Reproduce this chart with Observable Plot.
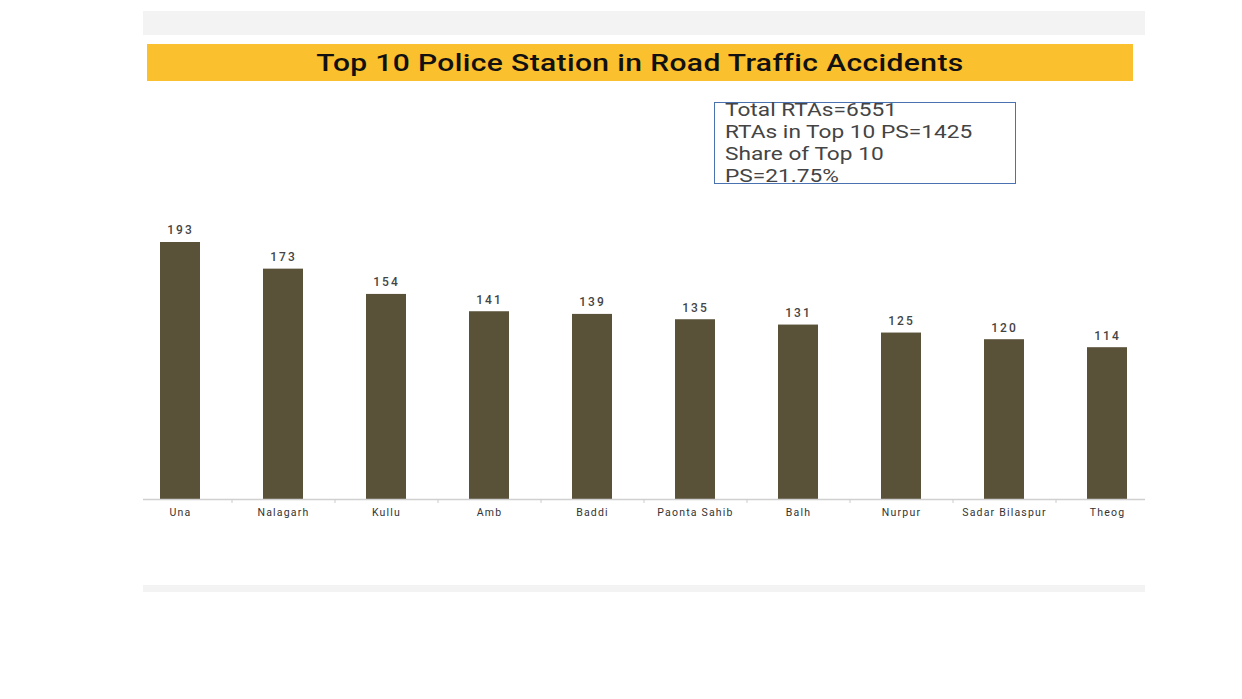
<!DOCTYPE html>
<html>
<head>
<meta charset="utf-8">
<script src="https://cdn.jsdelivr.net/npm/d3@7"></script>
<script src="https://cdn.jsdelivr.net/npm/@observablehq/plot@0.6"></script>
<style>
  body { margin: 0; background: #fff; font-family: "Noto Sans", Roboto, sans-serif; }
  #wrap { position: relative; width: 1242px; height: 699px; overflow: hidden; background: #fff; }
  .band { position: absolute; background: #f3f3f3; }
  #title { position: absolute; left: 147px; top: 44px; width: 986px; height: 37px; background: #fbc02d;
           display: flex; align-items: center; justify-content: center; font-size: 24px; color: #111; font-weight: 500;
           font-family: Roboto, sans-serif; }
  #title span { display: inline-block; transform: scaleX(1.25); letter-spacing: 0.3px; }
  #box { position: absolute; left: 714px; top: 102px; width: 290px; height: 80px; border: 1.5px solid #4a72b0;
         padding-left: 10px; font-size: 18px; line-height: 22px; color: #444;
         font-family: Roboto, sans-serif; }
  #box div { white-space: nowrap; transform: scaleX(1.26); transform-origin: left center; }
  #chart { position: absolute; left: 0; top: 0; }
  #chart g[font-size="12"] text { letter-spacing: 2px; }
  #chart g[font-size="10.5"] text { letter-spacing: 1.2px; }
</style>
</head>
<body>
<div id="wrap">
  <div class="band" style="left:143px;top:11px;width:1002px;height:24px;"></div>
  <div class="band" style="left:143px;top:585px;width:1002px;height:7px;"></div>
  <div id="title"><span>Top 10 Police Station in Road Traffic Accidents</span></div>
  <div id="chart"></div>
  <div id="box">
    <div style="margin-top:-4px">Total RTAs=6551</div>
    <div>RTAs in Top 10 PS=1425</div>
    <div>Share of Top 10</div>
    <div>PS=21.75%</div>
  </div>
</div>
<script>
const stations = ["Una", "Nalagarh", "Kullu", "Amb", "Baddi", "Paonta Sahib", "Balh", "Nurpur", "Sadar Bilaspur", "Theog"];
const accidents = [193, 173, 154, 141, 139, 135, 131, 125, 120, 114];

const data = stations.map((s, i) => ({station: s, value: accidents[i]}));

const chart = Plot.plot({
  width: 1242,
  height: 699,
  marginLeft: 143,
  marginRight: 97,
  marginTop: 242,
  marginBottom: 200,
  style: {background: "transparent", fontFamily: "Roboto, sans-serif"},
  x: {domain: stations, range: [128.5, 1158.5], paddingInner: 0.612, paddingOuter: 0.306, axis: null},
  y: {domain: [0, 193], axis: null},
  marks: [
    Plot.barY(data, {x: "station", y: "value", fill: "#5a5139"}),
    Plot.ruleY([0], {stroke: "#d0d0d0", strokeWidth: 1.5}),
    Plot.ruleX(stations.slice(1), {x: d => d, dx: -51.5, y1: 0, y2: 0, stroke: "#cccccc", insetBottom: -4}),
    Plot.text(data, {x: "station", y: "value", text: d => String(d.value), dy: -12, fontSize: 12, fill: "#444", fontWeight: 500}),
    Plot.text(data, {x: "station", y: 0, text: "station", dy: 13, fontSize: 10.5, fill: "#333"})
  ]
});
document.getElementById("chart").appendChild(chart);
</script>
</body>
</html>
